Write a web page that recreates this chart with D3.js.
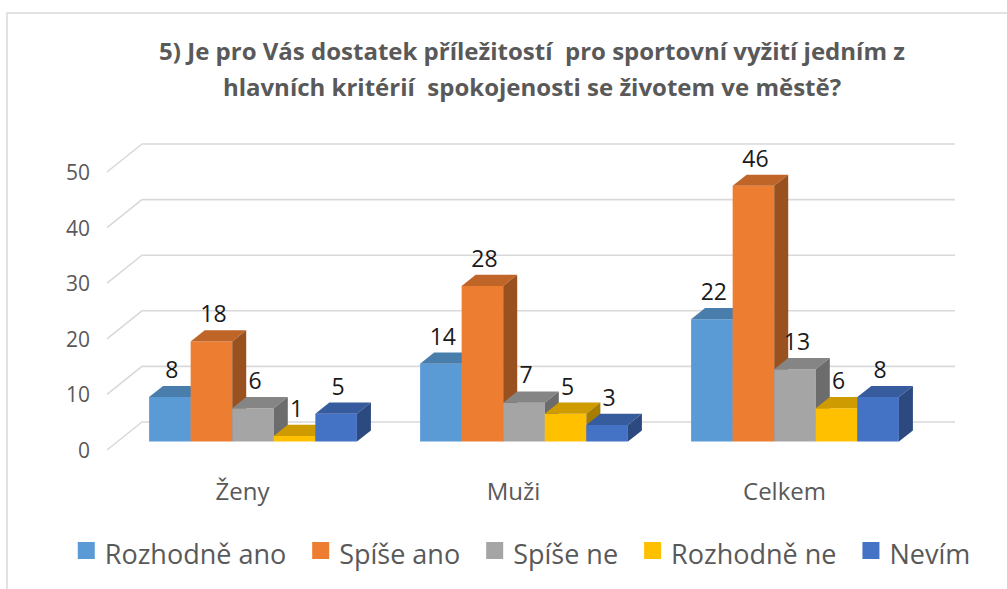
<!DOCTYPE html>
<html>
<head>
<meta charset="utf-8">
<script src="https://cdn.jsdelivr.net/npm/d3@7"></script>
<style>
  body { margin: 0; background: #fff; }
  text { font-family: "Open Sans", sans-serif; }
</style>
</head>
<body>
<div id="canvas"></div>
<script>
// data
const categories = ["Ženy", "Muži", "Celkem"];
const seriesNames = ["Rozhodně ano", "Spíše ano", "Spíše ne", "Rozhodně ne", "Nevím"];
const seriesColors = ["#5B9BD5", "#ED7D31", "#A5A5A5", "#FFC000", "#4472C4"];
const values = [
    [8, 14, 22],   // Rozhodně ano
    [18, 28, 46],  // Spíše ano
    [6, 7, 13],    // Spíše ne
    [1, 5, 6],     // Rozhodně ne
    [5, 3, 8]      // Nevím
];
const yTicks = [0, 10, 20, 30, 40, 50];
const titleLines = [
    "5) Je pro Vás dostatek příležitostí  pro sportovní vyžití jedním z",
    "hlavních kritérií  spokojenosti se životem ve městě?"
];

const width = 1007;
const height = 589;

const svg = d3.select("#canvas").append("svg")
    .attr("width", width)
    .attr("height", height);

// chart border
svg.append("path")
    .attr("d", "M7,589 L7,13 L1007,13")
    .attr("fill", "none")
    .attr("stroke", "#D9D9D9")
    .attr("stroke-width", 1.5);

// title
svg.selectAll("text.title").data(titleLines).enter().append("text")
    .attr("class", "title")
    .attr("x", 532)
    .attr("y", (d, i) => 60 + i * 36)
    .attr("text-anchor", "middle")
    .attr("font-size", 24)
    .attr("font-weight", "bold")
    .attr("fill", "#595959")
    .style("white-space", "pre")
    .text(d => d);

// 3D geometry: front plane scales + depth offset
const depthX = 35, depthY = -28;
const proj = (x, y, z) => [x + z * depthX, y + z * depthY];

const x = d3.scaleBand()
    .domain(categories)
    .range([107, 920]);

const xs = d3.scaleBand()
    .domain(d3.range(seriesNames.length))
    .range([0, x.bandwidth()])
    .paddingOuter(0.76)
    .paddingInner(0);

const y = d3.scaleLinear()
    .domain([0, 50])
    .range([450, 172]);

// gridlines: side wall diagonal + back wall line
const g = svg.append("g");
g.selectAll("path.grid").data(yTicks).enter().append("path")
    .attr("class", "grid")
    .attr("d", d => d3.line()([proj(107, y(d), 0), proj(107, y(d), 1), proj(920, y(d), 1)]))
    .attr("fill", "none")
    .attr("stroke", "#D9D9D9")
    .attr("stroke-width", 1.6);

// y tick labels
g.selectAll("text.ytick").data(yTicks).enter().append("text")
    .attr("class", "ytick")
    .attr("x", 90)
    .attr("y", d => y(d) + 8)
    .attr("text-anchor", "end")
    .attr("font-size", 21)
    .attr("fill", "#595959")
    .text(d => d);

// category labels
g.selectAll("text.cat").data(categories).enter().append("text")
    .attr("class", "cat")
    .attr("x", d => x(d) + x.bandwidth() / 2)
    .attr("y", 500)
    .attr("text-anchor", "middle")
    .attr("font-size", 24)
    .attr("fill", "#595959")
    .text(d => d);

// bars
const zFront = 0.3, zBack = 0.7;
const bars = [];
categories.forEach((c, ci) => {
    seriesNames.forEach((s, si) => {
        bars.push({ cat: c, si: si, value: values[si][ci] });
    });
});

function face(pts) { return d3.line()(pts) + "Z"; }

g.selectAll("g.bar").data(bars).enter().append("g").attr("class", "bar")
    .each(function (d) {
        const sel = d3.select(this);
        const col = d3.color(seriesColors[d.si]);
        const x0 = x(d.cat) + xs(d.si);
        const x1 = x0 + xs.bandwidth();
        const y0 = y(0), yv = y(d.value);
        const fl = proj(x0, yv, zFront), fr = proj(x1, yv, zFront);
        const bl = proj(x0, yv, zBack), br = proj(x1, yv, zBack);
        const fb0 = proj(x0, y0, zFront), fb1 = proj(x1, y0, zFront);
        const bb1 = proj(x1, y0, zBack);
        sel.append("path").attr("d", face([fb0, fl, fr, fb1])).attr("fill", col.formatHex());
        sel.append("path").attr("d", face([fl, bl, br, fr])).attr("fill", col.darker(0.6).formatHex());
        sel.append("path").attr("d", face([fb1, fr, br, bb1])).attr("fill", col.darker(1.2).formatHex());
    });

// data labels
g.selectAll("text.lbl").data(bars).enter().append("text")
    .attr("class", "lbl")
    .attr("x", d => proj(x(d.cat) + xs(d.si) + xs.bandwidth() / 2, 0, zFront)[0] + 2)
    .attr("y", d => proj(0, y(d.value), zBack)[1] - 8)
    .attr("text-anchor", "middle")
    .attr("font-size", 23)
    .attr("fill", "#1a1a1a")
    .text(d => d.value);

// legend
const legend = svg.append("g");
const items = legend.selectAll("g.item").data(seriesNames).enter().append("g").attr("class", "item");
items.append("rect")
    .attr("width", 17)
    .attr("height", 17)
    .attr("y", 542)
    .attr("fill", (d, i) => seriesColors[i]);
items.append("text")
    .attr("x", 27)
    .attr("y", 564)
    .attr("font-size", 27)
    .attr("fill", "#595959")
    .text(d => d);

const widths = [];
items.each(function () {
    widths.push(27 + d3.select(this).select("text").node().getComputedTextLength());
});
const gap = 26;
const total = d3.sum(widths) + gap * (widths.length - 1);
let cx = 524 - total / 2;
items.each(function (d, i) {
    d3.select(this).attr("transform", `translate(${cx},0)`);
    cx += widths[i] + gap;
});
</script>
</body>
</html>
